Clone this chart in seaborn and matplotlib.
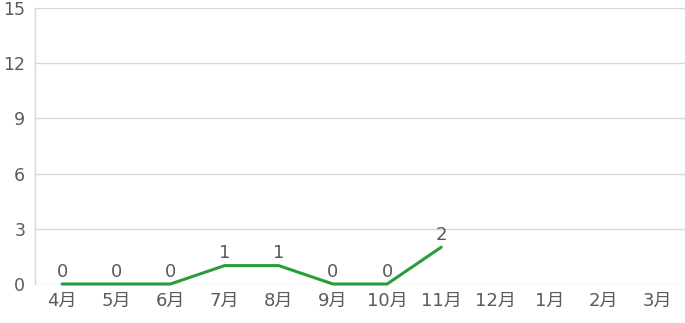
import matplotlib
matplotlib.use("Agg")
import matplotlib.pyplot as plt
import seaborn as sns
import numpy as np
import pandas as pd

months = ["4月", "5月", "6月", "7月", "8月", "9月", "10月", "11月", "12月", "1月", "2月", "3月"]
values = [0, 0, 0, 1, 1, 0, 0, 2, np.nan, np.nan, np.nan, np.nan]
yticks = [0, 3, 6, 9, 12, 15]

sns.set_style("white")
plt.rcParams['font.family'] = ['DejaVu Sans', 'Noto Sans CJK JP']

text_color = "#5a5a5a"
grid_color = "#d9d9d9"
line_color = "#2a9d3a"

df = pd.DataFrame({"pos": np.arange(len(months)), "value": values})

fig = plt.figure(figsize=(6.85, 3.23), dpi=100)
ax = fig.add_axes([35/685, 1-284/323, 1-35/685, (284-8)/323])

sns.lineplot(data=df, x="pos", y="value", ax=ax, color=line_color, linewidth=2.2)
for ln in ax.get_lines():
    ln.set_clip_on(False)
    ln.set_zorder(3)

for x, v in zip(df["pos"], df["value"]):
    if not np.isnan(v):
        ax.annotate(f"{int(v)}", (x, v), xytext=(0, 2.5), textcoords="offset points",
                    ha="center", va="bottom", fontsize=13, color=text_color)

ax.set_xlim(-0.5, len(months) - 0.5)
ax.set_ylim(0, 15)
ax.set_yticks(yticks)
ax.set_yticklabels([str(t) for t in yticks])
ax.set_xticks(np.arange(len(months)))
ax.set_xticklabels(months)
ax.set_xlabel("")
ax.set_ylabel("")

ax.grid(axis="y", color=grid_color, linewidth=1)
ax.set_axisbelow(True)
for s in ["top", "right", "bottom"]:
    ax.spines[s].set_visible(False)
ax.spines["left"].set_color(grid_color)
ax.spines["left"].set_linewidth(1)

ax.tick_params(axis="y", length=0, labelsize=12.5, labelcolor=text_color, pad=7)
ax.tick_params(axis="x", length=0, labelsize=13, labelcolor=text_color, pad=6)

fig.savefig("out.png", dpi=100)
